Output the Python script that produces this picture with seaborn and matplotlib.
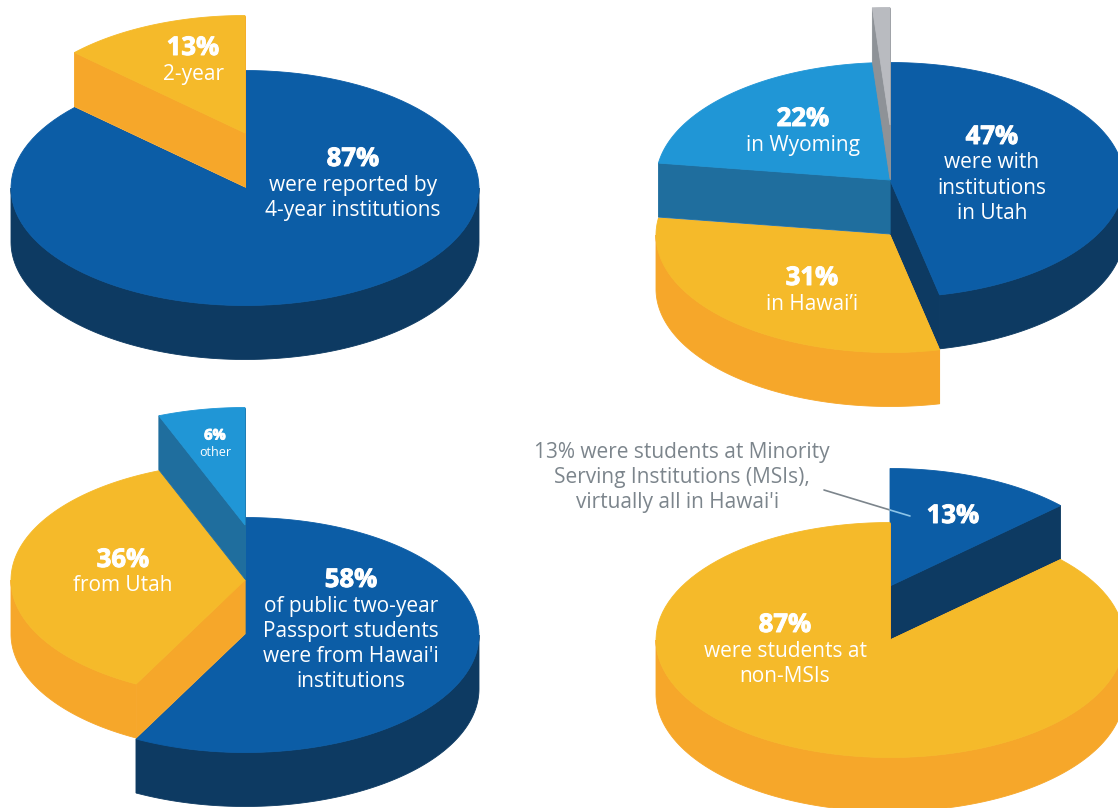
import numpy as np
import seaborn as sns
import matplotlib.pyplot as plt
import matplotlib.patheffects as pe

# shares, clockwise from 12 o'clock
shares_sector = [87, 13]
shares_state = [46.6, 30.7, 21.5, 1.2]
shares_two_year = [57.7, 36.3, 6]
shares_msi = [13, 87]

# colours
BLUE, BLUE_DK = "#0C5DA6", "#0D3A62"
YEL, YEL_DK = "#F5BA2A", "#F6A72A"
SKY, SKY_DK = "#2096D6", "#1F6E9E"
GREY, GREY_DK = "#B9BBC0", "#8E9297"
TEXT_GREY = "#7C858C"

RX, RY = 234, 117.5
DEPTH = 54

sns.set_theme(style="white")
plt.rcParams["font.family"] = ["Open Sans", "DejaVu Sans"]

fig = plt.figure(figsize=(11.18, 8.08), dpi=100, facecolor="white")
ax = fig.add_axes([0, 0, 1, 1])
ax.set_xlim(0, 1118)
ax.set_ylim(808, 0)
sns.despine(ax=ax, left=True, bottom=True)
ax.set_xticks([])
ax.set_yticks([])


def rim(cx, cy, a0, a1):
    t = np.radians(np.linspace(a0, a1, 120))
    return cx + RX * np.sin(t), cy - RY * np.cos(t)


def poly(xs, ys, color):
    ax.fill(xs, ys, color=color, lw=0.6, zorder=2)


def draw_pie(cx, cy, shares, lifts, tops, sides):
    # each slice: side walls first, then the top face, back to front
    start = 0
    for share, lift, top, side in zip(shares, lifts, tops, sides):
        a0, a1 = start * 3.6, (start + share) * 3.6
        start += share
        y = cy - lift
        for a in (a0, a1):
            ex, ey = rim(cx, y, a, a)
            poly([cx, ex[0], ex[0], cx], [y, ey[0], ey[0] + DEPTH, y + DEPTH], side)
        # outer wall is only seen on the front half
        lo, hi = max(a0, 90), min(a1, 270)
        if hi > lo:
            ex, ey = rim(cx, y, lo, hi)
            poly(np.r_[ex, ex[::-1]], np.r_[ey, ey[::-1] + DEPTH], side)
        ex, ey = rim(cx, y, a0, a1)
        poly(np.r_[cx, ex], np.r_[y, ey], top)


draw_pie(245, 188, shares_sector, [0, 55], [BLUE, YEL], [BLUE_DK, YEL_DK])
draw_pie(890, 180, shares_state, [0, -55, 0, 55],
         [BLUE, YEL, SKY, GREY], [BLUE_DK, YEL_DK, SKY_DK, GREY_DK])
draw_pie(245, 635, shares_two_year, [0, 55, 110], [BLUE, YEL, SKY], [BLUE_DK, YEL_DK, SKY_DK])
draw_pie(890, 640, shares_msi, [54, 0], [BLUE, YEL], [BLUE_DK, YEL_DK])

# leader for the MSI note
sns.lineplot(x=[824, 890], y=[490, 510], color=TEXT_GREY, lw=1.2, ax=ax, sort=False, zorder=3)
sns.lineplot(x=[890, 910], y=[510, 516], color="#8CC4E8", lw=1.2, ax=ax, sort=False, zorder=3)


def head(x, y, s, size=18.5):
    ax.text(x, y + 1.5, s, color="white", fontsize=size, fontweight="bold", ha="center", va="center",
            zorder=4, path_effects=[pe.withStroke(linewidth=0.7, foreground="white")])


def body(x, y, s, size=15, color="white"):
    ax.text(x, y + 1.5, s, color=color, fontsize=size, ha="center", va="center", zorder=4)


head(193, 46, "13%")
body(193, 73, "2-year")
head(353, 157, "87%")
body(353, 184, "were reported by")
body(353, 209, "4-year institutions")

head(803, 117, "22%")
body(803, 144, "in Wyoming")
head(992, 135, "47%")
body(992, 161, "were with")
body(992, 187, "institutions")
body(992, 212, "in Utah")
head(812, 276, "31%")
body(812, 303, "in Hawai\u2019i")

head(215, 434, "6%", 10.5)
body(215, 451, "other", 9)
head(123, 558, "36%")
body(123, 584, "from Utah")
head(351, 578, "58%")
body(351, 605, "of public two-year")
body(351, 630, "Passport students")
body(351, 655, "were from Hawai'i")
body(351, 680, "institutions")

body(682, 451, "13% were students at Minority", color=TEXT_GREY)
body(682, 476, "Serving Institutions (MSIs),", color=TEXT_GREY)
body(678, 501, "virtually all in Hawai'i", color=TEXT_GREY)
head(953, 514, "13%")
head(785, 623, "87%")
body(785, 650, "were students at")
body(785, 675, "non-MSIs")

fig.savefig("out.png", dpi=100)
